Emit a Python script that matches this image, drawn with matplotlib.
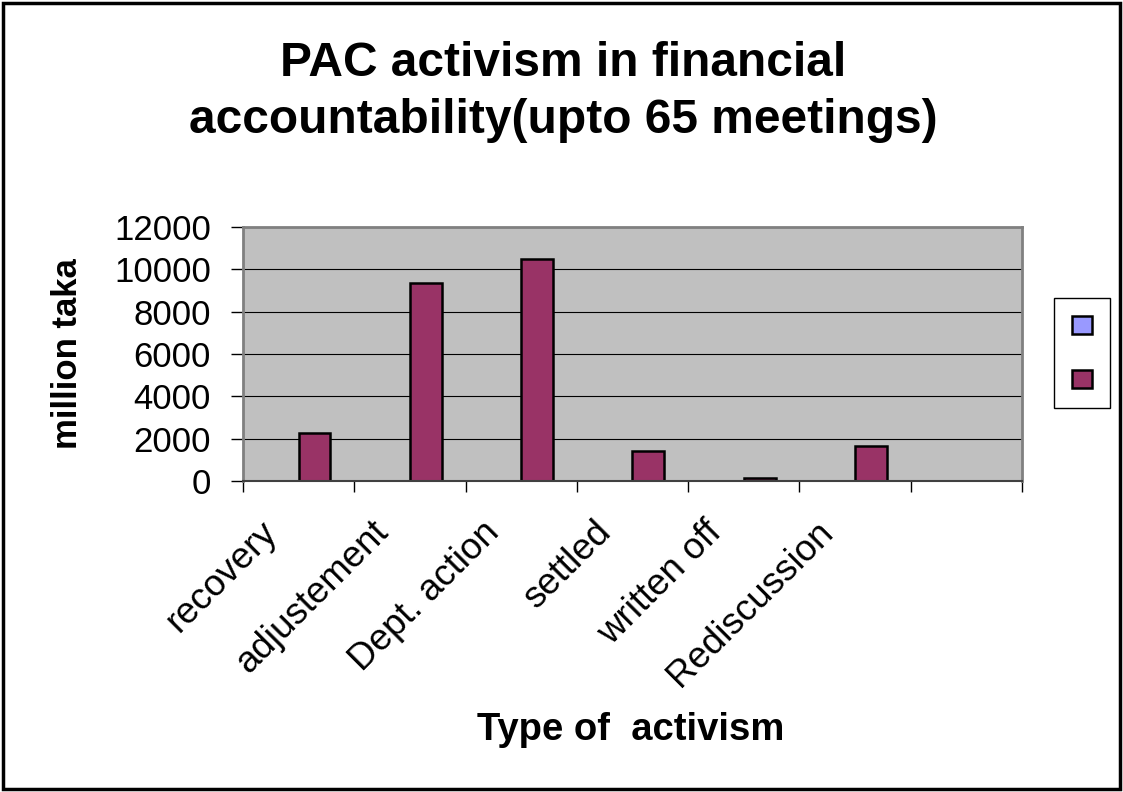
import numpy as np
import matplotlib.pyplot as plt
import matplotlib.transforms as mtransforms
from matplotlib.patches import Rectangle

plt.rcParams['font.family'] = ['Liberation Sans', 'DejaVu Sans']

# data grafik
kategori = ['recovery', 'adjustement', 'Dept. action', 'settled', 'written off', 'Rediscussion', '']
seri1 = [np.nan, np.nan, np.nan, np.nan, np.nan, np.nan, np.nan]
seri2 = [2280, 9350, 10500, 1400, 120, 1650, np.nan]
yticks = [0, 2000, 4000, 6000, 8000, 10000, 12000]

fig = plt.figure(figsize=(11.23, 7.92), dpi=100)
ax = fig.add_axes([243 / 1123, 1 - 481 / 792, (1022 - 243) / 1123, (481 - 227) / 792])
ax.set_facecolor('#C0C0C0')

x = np.arange(len(kategori))
w = 1 / 3.5
b1 = ax.bar(x - w / 2, seri1, w, color='#9999FF', edgecolor='black', linewidth=1.8)
b2 = ax.bar(x + w / 2, seri2, w, color='#993366', edgecolor='black', linewidth=1.8)

ax.set_xlim(-0.5, len(kategori) - 0.5)
ax.set_ylim(0, 12000)
ax.set_yticks(yticks)
ax.yaxis.grid(True, color='black', linewidth=0.8)
ax.set_axisbelow(True)

# tick di batas kategori, label di tengah
ax.set_xticks(x)
ax.set_xticks(np.arange(len(kategori) + 1) - 0.5, minor=True)
ax.set_xticklabels(kategori, rotation=45, ha='right', va='center', rotation_mode='anchor')
ax.tick_params(axis='x', which='major', length=0, pad=33, labelsize=26.5)
ax.tick_params(axis='x', which='minor', length=8, width=1, color='black', direction='out')
ax.tick_params(axis='y', length=9, width=1, color='black', direction='out', pad=14, labelsize=25)
geser = mtransforms.ScaledTranslation(-0.27, 0, fig.dpi_scale_trans)
for lbl in ax.get_xticklabels():
    lbl.set_transform(lbl.get_transform() + geser)

for s in ['left', 'top', 'right']:
    ax.spines[s].set_color('#808080')
    ax.spines[s].set_linewidth(2)
ax.spines['bottom'].set_color('#404040')
ax.spines['bottom'].set_linewidth(1.5)

ax.set_ylabel('million taka', fontsize=25, fontweight='bold', va='center')
ax.yaxis.set_label_coords((67 - 243) / 779, 0.5)
ax.set_xlabel('Type of  activism', fontsize=27.5, fontweight='bold', va='center')
ax.xaxis.set_label_coords((631 - 243) / 779, (481 - 730) / 254)

fig.suptitle('PAC activism in financial\naccountability(upto 65 meetings)',
             x=563 / 1123, y=1 - 92 / 792, va='center', fontsize=34.5, fontweight='bold',
             linespacing=1.32)

leg = fig.legend([b1, b2], ['', ''], loc='center',
                 bbox_to_anchor=(1081.5 / 1123, 1 - 353 / 792),
                 prop={'size': 14.4}, handlelength=1, handleheight=1,
                 handletextpad=0, labelspacing=1.7, borderpad=0.9,
                 fancybox=False, framealpha=1, edgecolor='black')
leg.get_frame().set_linewidth(1)

# bingkai luar
fig.patches.append(Rectangle((3 / 1123, 3 / 792), 1117 / 1123, 786 / 792, fill=False,
                             edgecolor='black', linewidth=2.5, transform=fig.transFigure))

plt.savefig('out.png', dpi=100)
